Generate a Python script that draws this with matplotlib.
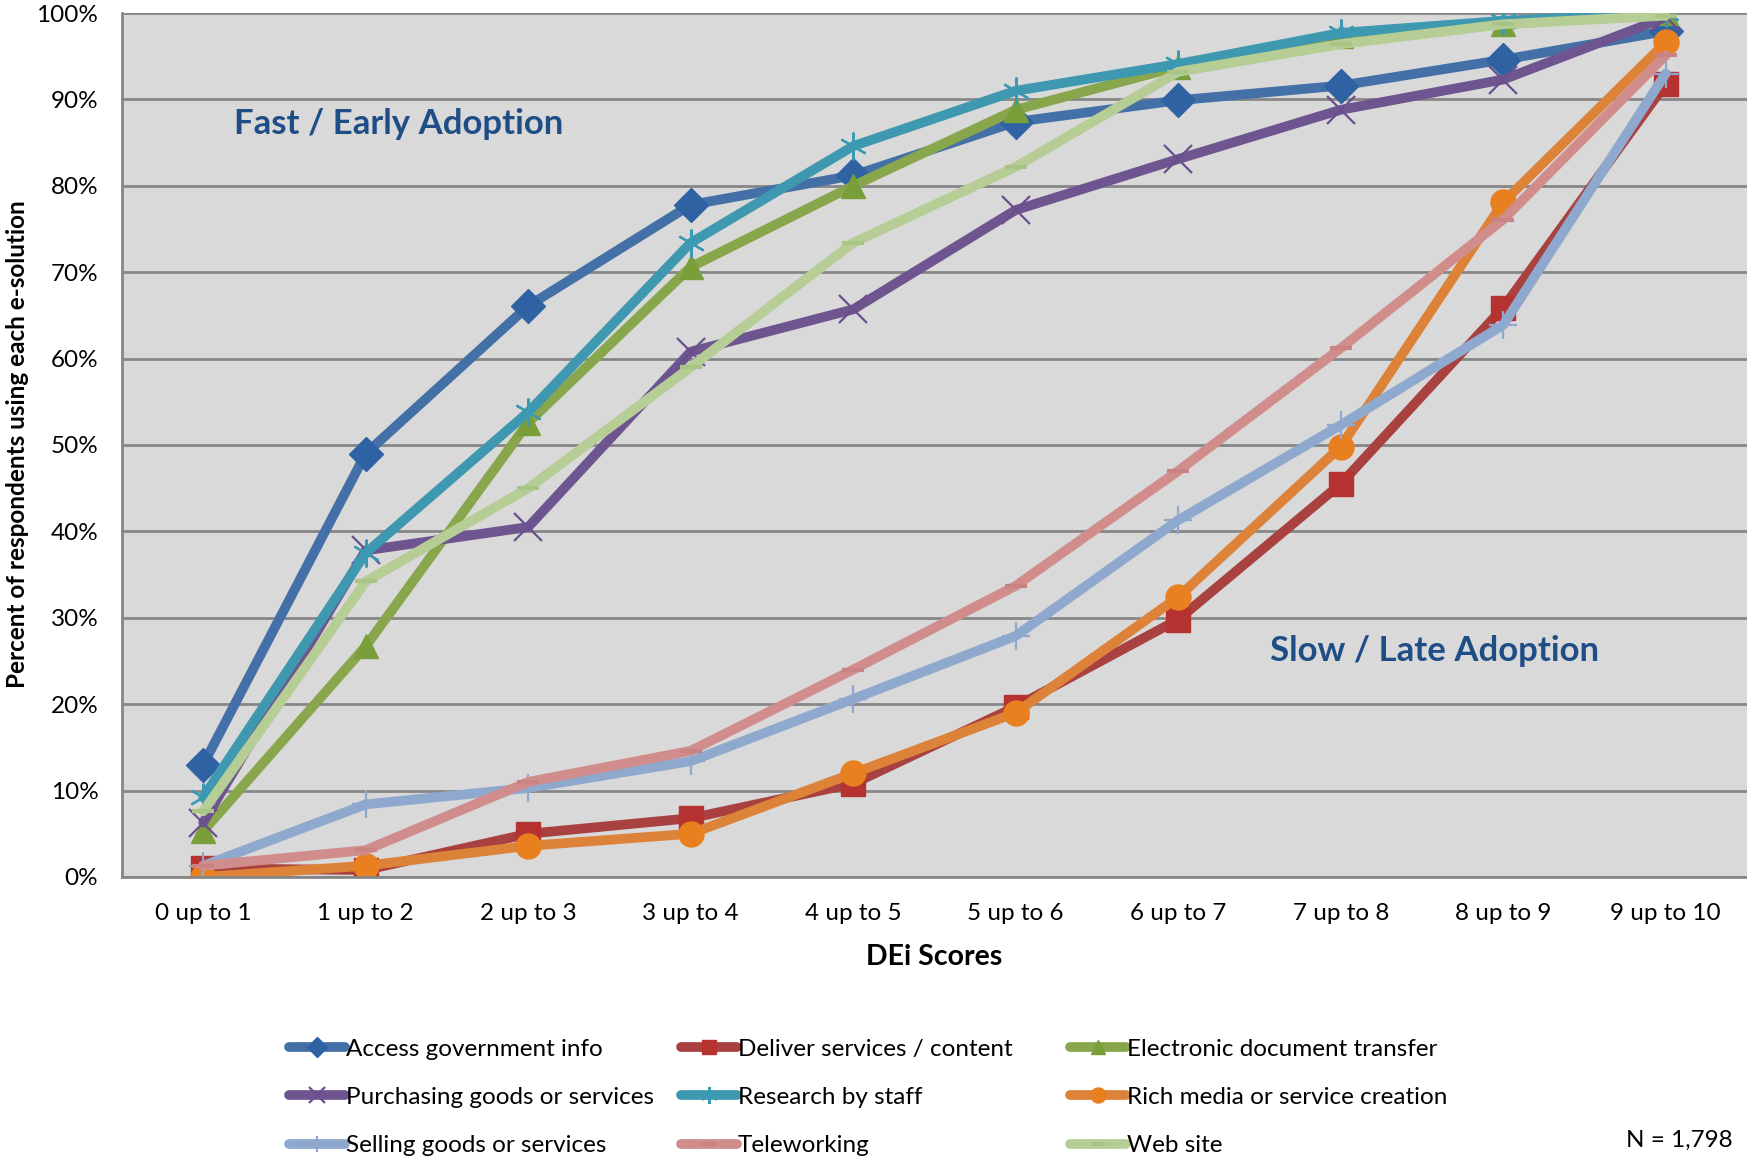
import matplotlib.pyplot as plt

plt.rcParams['font.family'] = ['Lato', 'DejaVu Sans']

# DEi score bands
categories = ['0 up to 1', '1 up to 2', '2 up to 3', '3 up to 4', '4 up to 5',
              '5 up to 6', '6 up to 7', '7 up to 8', '8 up to 9', '9 up to 10']

# Percent of respondents using each e-solution
access_gov = [13.0, 49.0, 66.1, 77.8, 81.2, 87.4, 89.9, 91.6, 94.6, 97.9]
deliver_services = [1.0, 0.8, 5.0, 6.8, 10.8, 19.7, 29.8, 45.5, 65.9, 91.8]
electronic_docs = [5.3, 26.7, 52.6, 70.6, 80.0, 88.8, 93.8, 97.3, 98.7, 100.0]
purchasing = [6.3, 37.8, 40.5, 60.8, 65.7, 77.2, 83.1, 88.8, 92.3, 99.5]
research_staff = [9.2, 37.5, 53.8, 73.4, 84.6, 91.0, 94.1, 97.7, 99.1, 100.0]
rich_media = [0.0, 1.3, 3.6, 5.0, 12.0, 19.0, 32.4, 49.8, 78.1, 96.6]
selling = [1.3, 8.4, 10.3, 13.4, 20.6, 27.9, 41.3, 52.3, 63.9, 93.0]
teleworking = [1.3, 3.1, 11.0, 14.6, 24.0, 33.7, 47.0, 61.2, 76.1, 95.1]
web_site = [7.6, 34.2, 45.0, 59.0, 73.4, 82.2, 93.2, 96.4, 98.7, 99.7]

series_names = ['Access government info', 'Deliver services / content',
                'Electronic document transfer', 'Purchasing goods or services',
                'Research by staff', 'Rich media or service creation',
                'Selling goods or services', 'Teleworking', 'Web site']
series_values = [access_gov, deliver_services, electronic_docs, purchasing,
                 research_staff, rich_media, selling, teleworking, web_site]

line_colors = ['#4470A8', '#A8413F', '#88A64B', '#6E5590', '#3E99B0',
               '#DC8339', '#8EA8CE', '#D18D8C', '#B6CD95']
marker_colors = ['#2F62A3', '#B53230', '#7A9E3A', '#6A4F8E', '#3A9AB3',
                 '#E8801F', '#8EA8CE', '#C98383', '#A9C586']
markers = ['D', 's', '^', 'x', (6, 2, 0), 'o', '+', '_', '_']
marker_sizes = [17, 17, 17, 20, 20, 18, 20, 16, 16]
edge_widths = [1, 1, 1, 1.6, 1.6, 1, 1.6, 3, 3]

fig = plt.figure(figsize=(17.47, 11.64), dpi=100)
ax = fig.add_axes([0.0698, 0.2466, 0.9302, 0.7422])
ax.set_facecolor('#D9D9D9')

x = list(range(len(categories)))
handles = []
for name, vals, lc, mc, mk, ms, ew in zip(series_names, series_values, line_colors,
                                          marker_colors, markers, marker_sizes, edge_widths):
    line, = ax.plot(x, vals, color=lc, linewidth=7, marker=mk, markersize=ms,
                    markerfacecolor=mc, markeredgecolor=mc,
                    markeredgewidth=ew, solid_capstyle='round', label=name)
    handles.append(line)

ax.set_xlim(-0.5, 9.5)
ax.set_ylim(0, 100)
ax.set_yticks(range(0, 101, 10))
ax.set_yticklabels([f'{v}%' for v in range(0, 101, 10)], fontsize=17.5)
ax.set_xticks(x)
ax.set_xticklabels(categories, fontsize=17.5)
ax.tick_params(axis='both', length=0)
ax.tick_params(axis='y', pad=17)
ax.tick_params(axis='x', pad=19)
ax.grid(axis='y', color='#868686', linewidth=2)
ax.set_axisbelow(True)
for side in ['top', 'right']:
    ax.spines[side].set_visible(False)
for side in ['left', 'bottom']:
    ax.spines[side].set_color('#868686')
    ax.spines[side].set_linewidth(2)

ax.set_xlabel('DEi Scores', fontsize=20.5, fontweight='bold', labelpad=14.4)
ax.set_ylabel('Percent of respondents using each e-solution', fontsize=17.5,
              fontweight='bold')
ax.yaxis.set_label_coords(-0.0572, 0.501)

ax.text(0.069, 0.8715, 'Fast / Early Adoption', transform=ax.transAxes,
        fontsize=25, fontweight='bold', color='#1F4E86', va='center')
ax.text(0.7065, 0.2616, 'Slow / Late Adoption', transform=ax.transAxes,
        fontsize=25, fontweight='bold', color='#1F4E86', va='center')

# Legend laid out as three separate columns, filled row by row
col_x = [0.1656, 0.3896, 0.6126]
for c in range(3):
    col_handles = [handles[r * 3 + c] for r in range(3)]
    fig.legend(handles=col_handles, labels=[h.get_label() for h in col_handles],
               loc='upper left', bbox_to_anchor=(col_x[c], 0.1077),
               frameon=False, fontsize=17.5, handlelength=2.3, handletextpad=0.05,
               labelspacing=1.12, borderpad=0, borderaxespad=0, numpoints=1,
               markerscale=0.6)

fig.text(0.992, 0.0206, 'N = 1,798', fontsize=17.5, ha='right', va='center')

fig.savefig('out.png', dpi=100)
